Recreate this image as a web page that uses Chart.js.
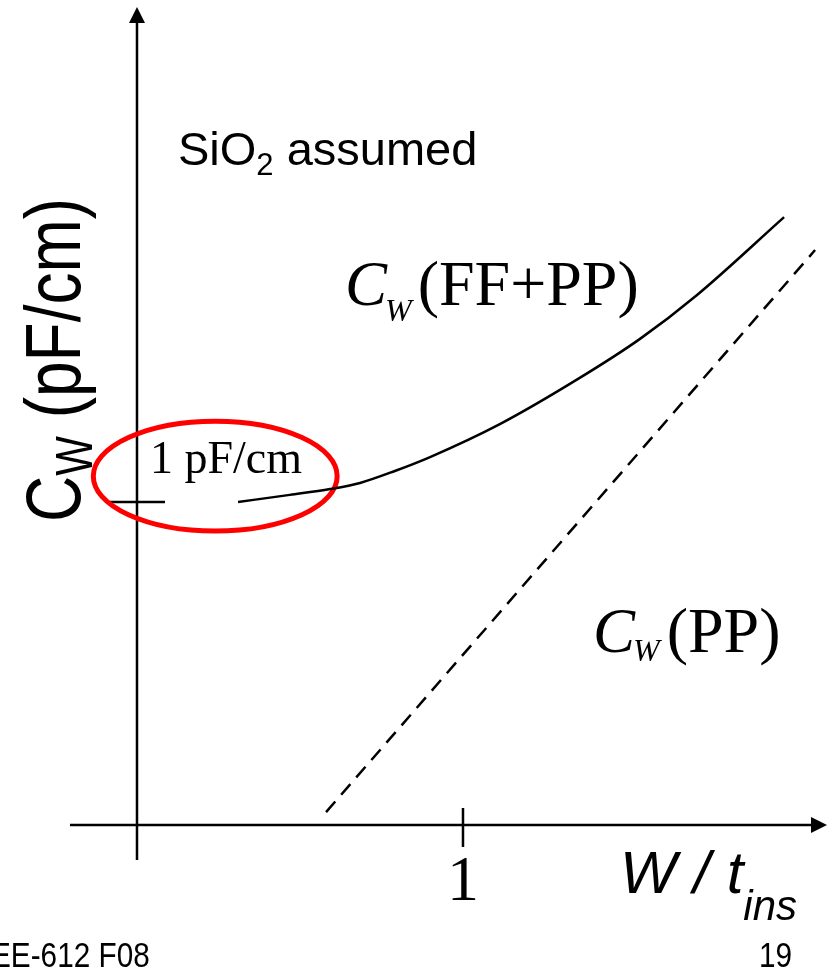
<!DOCTYPE html>
<html>
<head>
<meta charset="utf-8">
<script src="https://cdn.jsdelivr.net/npm/chart.js@4"></script>
<style>
  html, body { margin: 0; padding: 0; background: #fff; }
  canvas { display: block; }
</style>
</head>
<body>
<canvas id="chart" width="834" height="971"></canvas>
<script>
// W/t_ins (x) vs C_W in pF/cm (y)
const ffppX = [0.31, 0.469, 0.592, 0.684, 0.791, 0.899, 1.113, 1.353, 1.543, 1.718, 1.985];
const ffppY = [1.00, 1.022, 1.040, 1.059, 1.096, 1.139, 1.241, 1.381, 1.505, 1.641, 1.882];
const ppX = [0.58, 2.08];
const ppY = [0.04, 1.78];

const xTicks = [1];
const yTicks = [1];
const xTickLabels = ["1"];
const yTickLabels = ["1 pF/cm"];

// the red circle drawn around the 1 pF/cm mark
const highlight = { x: 0.24, y: 1.08, rx: 0.374, ry: 0.17 };

const toPoints = (xs, ys) => xs.map((x, i) => ({ x, y: ys[i] }));

function subText(ctx, parts, x, y) {
  // parts: [text, font, dy, dx]
  let cx = x;
  parts.forEach(([t, font, dy, dx]) => {
    ctx.font = font;
    cx += dx || 0;
    ctx.fillText(t, cx, y + dy);
    cx += ctx.measureText(t).width;
  });
}

const axesPlugin = {
  id: "axes",
  beforeDatasetsDraw(chart) {
    const { ctx, scales: { x, y } } = chart;
    const x0 = x.getPixelForValue(0);
    const y0 = y.getPixelForValue(0);
    const left = x.getPixelForValue(x.min);
    const right = x.getPixelForValue(x.max);
    const top = y.getPixelForValue(y.max);
    const bottom = y.getPixelForValue(y.min);

    ctx.save();
    ctx.strokeStyle = "#000";
    ctx.fillStyle = "#000";
    ctx.lineWidth = 2.5;

    // axes
    ctx.beginPath();
    ctx.moveTo(x0, bottom);
    ctx.lineTo(x0, top + 12);
    ctx.moveTo(left, y0);
    ctx.lineTo(right - 12, y0);
    ctx.stroke();

    // arrow heads
    ctx.beginPath();
    ctx.moveTo(x0, top);
    ctx.lineTo(x0 - 8, top + 16);
    ctx.lineTo(x0 + 8, top + 16);
    ctx.closePath();
    ctx.fill();
    ctx.beginPath();
    ctx.moveTo(right, y0);
    ctx.lineTo(right - 16, y0 - 8);
    ctx.lineTo(right - 16, y0 + 8);
    ctx.closePath();
    ctx.fill();

    // ticks
    ctx.beginPath();
    xTicks.forEach((v) => {
      const px = x.getPixelForValue(v);
      ctx.moveTo(px, y0 - 17);
      ctx.lineTo(px, y0 + 22);
    });
    yTicks.forEach((v) => {
      const py = y.getPixelForValue(v);
      ctx.moveTo(x0 - 27, py);
      ctx.lineTo(x0 + 28, py);
    });
    ctx.stroke();

    // tick labels
    ctx.font = '64px "Liberation Serif", "Times New Roman", serif';
    ctx.textAlign = "center";
    ctx.textBaseline = "alphabetic";
    xTicks.forEach((v, i) => {
      ctx.fillText(xTickLabels[i], x.getPixelForValue(v), y0 + 75);
    });
    ctx.textAlign = "left";
    ctx.font = '46px "Liberation Serif", "Times New Roman", serif';
    yTicks.forEach((v, i) => {
      ctx.fillText(yTickLabels[i], x0 + 13, y.getPixelForValue(v) - 29);
    });

    // highlight ellipse
    const cx = x.getPixelForValue(highlight.x);
    const cy = y.getPixelForValue(highlight.y);
    const rx = x.getPixelForValue(highlight.x + highlight.rx) - cx;
    const ry = cy - y.getPixelForValue(highlight.y + highlight.ry);
    ctx.strokeStyle = "#ff0000";
    ctx.lineWidth = 5;
    ctx.beginPath();
    ctx.ellipse(cx, cy, rx, ry, 0, 0, Math.PI * 2);
    ctx.stroke();

    ctx.restore();
  },
  afterDraw(chart) {
    const { ctx } = chart;
    const serif = '"Liberation Serif", "Times New Roman", serif';
    const sans = '"Liberation Sans", Arial, sans-serif';
    ctx.save();
    ctx.fillStyle = "#000";
    ctx.textAlign = "left";
    ctx.textBaseline = "alphabetic";

    subText(ctx, [
      ["SiO", "47px " + sans, 0],
      ["2", "31px " + sans, 10],
      [" assumed", "47px " + sans, 0],
    ], 178, 165);

    subText(ctx, [
      ["C", "italic 63px " + serif, 0],
      ["W", "italic 32px " + serif, 16, -2],
      ["(FF+PP)", "64px " + serif, 0, 6],
    ], 345, 305);

    subText(ctx, [
      ["C", "italic 63px " + serif, 0],
      ["W", "italic 32px " + serif, 9, -2],
      ["(PP)", "64px " + serif, 0, 7],
    ], 593, 652);

    subText(ctx, [
      ["W / t", "italic 60px " + sans, 0],
      ["ins", "italic 42px " + sans, 27],
    ], 620, 893);

    // y axis title, rotated; glyphs a bit taller than wide as on the slide
    ctx.save();
    ctx.translate(80, 522);
    ctx.rotate(-Math.PI / 2);
    ctx.scale(1, 1.22);
    subText(ctx, [
      ["C", "64px " + sans, 0],
      ["W", "42px " + sans, 10],
      [" (pF/cm)", "64px " + sans, 0],
    ], 0, 0);
    ctx.restore();

    // footer (condensed)
    ctx.font = '35px "Liberation Sans", Arial, sans-serif';
    ctx.save();
    ctx.scale(0.85, 1);
    ctx.fillText("EE-612 F08", -9 / 0.85, 967);
    ctx.fillText("19", 759 / 0.85, 967);
    ctx.restore();
    ctx.restore();
  },
};

new Chart(document.getElementById("chart"), {
  type: "line",
  data: {
    datasets: [
      {
        label: "C_W (FF+PP)",
        data: toPoints(ffppX, ffppY),
        borderColor: "#000",
        borderWidth: 2.5,
        pointRadius: 0,
        cubicInterpolationMode: "monotone",
        fill: false,
      },
      {
        label: "C_W (PP)",
        data: toPoints(ppX, ppY),
        borderColor: "#000",
        borderWidth: 2.5,
        borderDash: [14, 9],
        pointRadius: 0,
        fill: false,
      },
    ],
  },
  options: {
    responsive: false,
    animation: false,
    layout: { padding: { left: 70, right: 7, top: 7, bottom: 111 } },
    plugins: { legend: { display: false }, tooltip: { enabled: false } },
    scales: {
      x: { type: "linear", display: false, min: -0.2055, max: 2.1166 },
      y: { type: "linear", display: false, min: -0.1084, max: 2.5325 },
    },
  },
  plugins: [axesPlugin],
});
</script>
</body>
</html>
